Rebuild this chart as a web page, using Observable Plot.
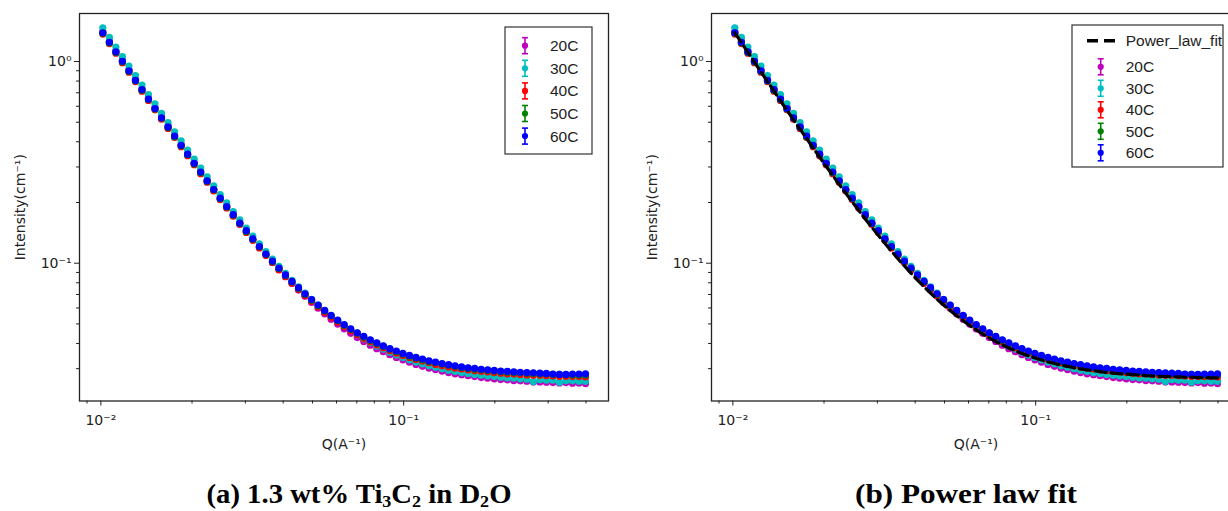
<!DOCTYPE html>
<html>
<head>
<meta charset="utf-8">
<script src="https://cdn.jsdelivr.net/npm/d3@7"></script>
<script src="https://cdn.jsdelivr.net/npm/@observablehq/plot@0.6"></script>
<style>
html, body { margin: 0; padding: 0; width: 1228px; height: 511px; overflow: hidden; background: #fff; }
#root { position: relative; width: 1228px; height: 511px; overflow: hidden; }
.panel { position: absolute; top: 0; }
</style>
</head>
<body>
<div id="root"></div>
<script>
// ---------- data ----------
const q = [0.01015,0.01067,0.01121,0.01178,0.01238,0.01301,0.01367,0.01436,0.01509,0.01586,
0.01667,0.01752,0.01841,0.01934,0.02033,0.02136,0.02244,0.02359,0.02478,0.02604,
0.02737,0.02876,0.03022,0.03177,0.03338,0.03508,0.03687,0.03874,0.04071,0.04277,
0.04495,0.04723,0.04964,0.05218,0.05483,0.05761,0.06054,0.06361,0.06685,0.07025,
0.07382,0.07758,0.08152,0.08567,0.09002,0.0946,0.09941,0.1045,0.1098,0.1154,
0.1212,0.1274,0.1339,0.1407,0.1478,0.1553,0.1632,0.1715,0.1803,0.1894,
0.1991,0.2092,0.2198,0.231,0.2427,0.2551,0.2681,0.2817,0.296,0.311,
0.3269,0.3435,0.361,0.3793,0.3986];

const seriesNames = ["20C", "30C", "40C", "50C", "60C"];
const seriesColors = ["#bf00bf", "#00bfbf", "#ff0000", "#008000", "#0000ff"];

const i20 = [1.407,1.261,1.131,1.014,0.909,0.816,0.732,0.658,0.591,0.531,
0.478,0.430,0.387,0.349,0.315,0.284,0.257,0.232,0.210,0.191,
0.1733,0.1577,0.1437,0.1311,0.1199,0.1099,0.1009,0.0929,0.0857,0.0793,
0.0736,0.0685,0.0639,0.0598,0.0561,0.0528,0.0499,0.0473,0.0449,0.0428,
0.0409,0.0392,0.0377,0.0364,0.0352,0.0341,0.0332,0.0323,0.0315,0.0308,
0.0302,0.0297,0.0292,0.0287,0.0283,0.0280,0.0277,0.0274,0.0271,0.0269,
0.0267,0.0265,0.0264,0.0262,0.0261,0.0260,0.0258,0.0258,0.0257,0.0256,
0.0255,0.0256,0.0254,0.0255,0.0253];

const i30 = [1.469,1.316,1.180,1.058,0.949,0.852,0.764,0.686,0.617,0.554,
0.498,0.448,0.404,0.364,0.328,0.296,0.268,0.242,0.219,0.199,
0.1805,0.1641,0.1495,0.1364,0.1247,0.1143,0.1049,0.0965,0.0890,0.0823,
0.0763,0.0710,0.0662,0.0619,0.0581,0.0546,0.0516,0.0488,0.0464,0.0442,
0.0422,0.0405,0.0389,0.0375,0.0362,0.0351,0.0341,0.0332,0.0324,0.0317,
0.0310,0.0305,0.0300,0.0295,0.0291,0.0287,0.0284,0.0281,0.0278,0.0276,
0.0274,0.0272,0.0270,0.0269,0.0267,0.0266,0.0259,0.0264,0.0263,0.0263,
0.0257,0.0261,0.0261,0.0260,0.0260];

const i40 = [1.368,1.227,1.100,0.987,0.885,0.795,0.713,0.641,0.576,0.518,
0.466,0.420,0.378,0.341,0.308,0.278,0.252,0.228,0.207,0.188,
0.1709,0.1557,0.1421,0.1299,0.1191,0.1094,0.1007,0.0929,0.0859,0.0797,
0.0742,0.0692,0.0647,0.0607,0.0572,0.0540,0.0511,0.0486,0.0463,0.0443,
0.0424,0.0408,0.0394,0.0381,0.0369,0.0358,0.0349,0.0341,0.0333,0.0327,
0.0321,0.0315,0.0310,0.0306,0.0302,0.0299,0.0296,0.0293,0.0291,0.0289,
0.0287,0.0285,0.0283,0.0282,0.0281,0.0279,0.0278,0.0278,0.0277,0.0276,
0.0275,0.0275,0.0274,0.0274,0.0273];

const i50 = [1.382,1.239,1.111,0.997,0.894,0.803,0.721,0.648,0.582,0.524,
0.471,0.424,0.382,0.345,0.311,0.281,0.255,0.231,0.209,0.190,
0.1729,0.1575,0.1438,0.1315,0.1206,0.1107,0.1019,0.0941,0.0870,0.0808,
0.0751,0.0701,0.0656,0.0616,0.0580,0.0548,0.0519,0.0493,0.0470,0.0450,
0.0431,0.0415,0.0400,0.0387,0.0375,0.0364,0.0355,0.0346,0.0339,0.0332,
0.0326,0.0321,0.0316,0.0312,0.0308,0.0304,0.0301,0.0298,0.0296,0.0294,
0.0292,0.0290,0.0288,0.0287,0.0286,0.0285,0.0284,0.0283,0.0282,0.0281,
0.0281,0.0280,0.0279,0.0279,0.0279];

const i60 = [1.389,1.246,1.117,1.002,0.899,0.807,0.725,0.651,0.585,0.526,
0.474,0.427,0.384,0.347,0.313,0.283,0.256,0.232,0.210,0.191,
0.174,0.158,0.145,0.132,0.121,0.111,0.1025,0.0946,0.0875,0.0812,
0.0756,0.0705,0.0660,0.0620,0.0583,0.0551,0.0522,0.0496,0.0473,0.0452,
0.0434,0.0417,0.0403,0.0389,0.0377,0.0367,0.0357,0.0349,0.0341,0.0335,
0.0328,0.0323,0.0318,0.0314,0.0310,0.0306,0.0303,0.0301,0.0298,0.0296,
0.0294,0.0292,0.0291,0.0289,0.0288,0.0287,0.0286,0.0285,0.0284,0.0282,
0.0281,0.0281,0.0282,0.0282,0.0283];

const fitName = "Power_law_fit";
const fitValues = [1.388,1.242,1.111,0.994,0.889,0.796,0.713,0.639,0.573,0.514,
0.462,0.415,0.373,0.336,0.302,0.273,0.246,0.2225,0.2014,0.1826,
0.1657,0.1508,0.1374,0.1255,0.1148,0.1053,0.0968,0.0893,0.0825,0.0765,
0.0711,0.0663,0.0621,0.0583,0.0549,0.0518,0.0491,0.0467,0.0445,0.0426,
0.0409,0.0394,0.0380,0.0368,0.0357,0.0347,0.0339,0.0331,0.0324,0.0318,
0.0312,0.0308,0.0303,0.0299,0.0296,0.0293,0.0290,0.0287,0.0285,0.0283,
0.0282,0.0280,0.0279,0.0277,0.0276,0.0275,0.0274,0.0274,0.0273,0.0272,
0.0272,0.0271,0.0271,0.0270,0.0270];

const xMajorTicks = [0.01, 0.1];
const xMajorLabels = ["10⁻²", "10⁻¹"];
const xMinorTicks = [0.009, 0.02, 0.03, 0.04, 0.05, 0.06, 0.07, 0.08, 0.09, 0.2, 0.3, 0.4];
const yMajorTicks = [0.1, 1];
const yMajorLabels = ["10⁻¹", "10⁰"];
const yMinorTicks = [0.03, 0.04, 0.05, 0.06, 0.07, 0.08, 0.09, 0.2, 0.3, 0.4, 0.5, 0.6, 0.7, 0.8, 0.9];
const xLabel = "Q(A⁻¹)";
const yLabel = "Intensity(cm⁻¹)";
const captionA = "(a) 1.3 wt% Ti₃C₂ in D₂O";
const captionB = "(b) Power law fit";

// ---------- drawing ----------
const allSeries = [i20, i30, i40, i50, i60];

function makePanel(withFit) {
  const marks = [
    Plot.axisX({ticks: xMinorTicks, tickSize: 3, tickFormat: () => "", label: null}),
    Plot.axisX({ticks: xMajorTicks, tickSize: 5, tickPadding: 9.5, fontSize: 14,
      tickFormat: d => xMajorLabels[xMajorTicks.indexOf(d)], label: null}),
    Plot.axisY({ticks: yMinorTicks, tickSize: 3, tickFormat: () => "", label: null}),
    Plot.axisY({ticks: yMajorTicks, tickSize: 5, tickPadding: 3, fontSize: 14,
      tickFormat: d => yMajorLabels[yMajorTicks.indexOf(d)], label: null})
  ];
  allSeries.forEach((s, k) => {
    const rows = q.map((x, j) => ({q: x, v: s[j]}));
    marks.push(Plot.dot(rows, {x: "q", y: "v", r: 3.6, fill: seriesColors[k], stroke: null}));
  });
  if (withFit) {
    const rows = q.map((x, j) => ({q: x, v: fitValues[j]}));
    marks.push(Plot.line(rows, {x: "q", y: "v", stroke: "#000", strokeWidth: 3.2, strokeDasharray: "11,5"}));
  }
  marks.push(Plot.frame({stroke: "#222", strokeWidth: 1.3}));
  marks.push(Plot.text([xLabel], {frameAnchor: "bottom", dy: 43.5, text: d => d, fontSize: 14,
    textAnchor: "middle", lineAnchor: "middle", fill: "#222"}));
  marks.push(Plot.text([yLabel], {frameAnchor: "left", dx: -59.3, rotate: -90, text: d => d, fontSize: 14,
    textAnchor: "middle", lineAnchor: "middle", fill: "#222"}));
  return Plot.plot({
    width: 620, height: 460,
    marginLeft: 79, marginRight: 12, marginTop: 13, marginBottom: 59.5,
    x: {type: "log", domain: [0.0085, 0.4747]},
    y: {type: "log", domain: [0.02074, 1.73]},
    style: {fontFamily: "'DejaVu Sans', sans-serif", color: "#222", background: "transparent", overflow: "visible"},
    marks
  });
}

const root = document.getElementById("root");
const p1 = makePanel(false);
p1.classList.add("panel"); p1.style.left = "0px";
root.appendChild(p1);
const p2 = makePanel(true);
p2.classList.add("panel"); p2.style.left = "631.6px";
root.appendChild(p2);

// overlay: legends + captions
const ov = d3.select(root).append("svg")
  .attr("width", 1228).attr("height", 511)
  .style("position", "absolute").style("left", "0px").style("top", "0px");

function errSymbol(g, x, y, color) {
  g.append("line").attr("x1", x).attr("x2", x).attr("y1", y - 8).attr("y2", y + 8)
    .attr("stroke", color).attr("stroke-width", 1.6);
  g.append("line").attr("x1", x - 3).attr("x2", x + 3).attr("y1", y - 8).attr("y2", y - 8)
    .attr("stroke", color).attr("stroke-width", 1.6);
  g.append("line").attr("x1", x - 3).attr("x2", x + 3).attr("y1", y + 8).attr("y2", y + 8)
    .attr("stroke", color).attr("stroke-width", 1.6);
  g.append("circle").attr("cx", x).attr("cy", y).attr("r", 3.1).attr("fill", color);
}
function legendText(g, x, y, s) {
  g.append("text").attr("x", x).attr("y", y).attr("dy", "0.36em")
    .attr("font-family", "'Liberation Sans', Arial, sans-serif").attr("font-size", 15.5)
    .attr("fill", "#222").text(s);
}
function legend(box, rowsY, symX, textX, fit) {
  const g = ov.append("g");
  g.append("rect").attr("x", box[0]).attr("y", box[1]).attr("width", box[2]).attr("height", box[3])
    .attr("fill", "#fff").attr("stroke", "#333").attr("stroke-width", 1.2);
  if (fit) {
    g.append("line").attr("x1", fit.x1).attr("x2", fit.x2).attr("y1", fit.y).attr("y2", fit.y)
      .attr("stroke", "#000").attr("stroke-width", 3.5).attr("stroke-dasharray", "11,6");
    legendText(g, textX, fit.y, fitName);
  }
  seriesNames.forEach((n, k) => {
    errSymbol(g, symX, rowsY[k], seriesColors[k]);
    legendText(g, textX, rowsY[k], n);
  });
}
legend([505, 27, 87, 127], [45.7, 68.3, 90.9, 113.5, 136.1], 525, 550, null);
legend([1072, 25, 151, 142], [66.8, 88.3, 109.8, 131.3, 152.8], 1100.7, 1125.7, {x1: 1087, x2: 1116, y: 40.7});

const subMap = {"₀":"0","₁":"1","₂":"2","₃":"3","₄":"4","₅":"5","₆":"6","₇":"7","₈":"8","₉":"9"};
function caption(str, cx, baseline, len) {
  const t = ov.append("text").attr("x", cx).attr("y", baseline).attr("text-anchor", "middle")
    .attr("font-family", "'Liberation Serif'").attr("font-weight", "bold")
    .attr("font-size", 27).attr("fill", "#000")
    .attr("textLength", len).attr("lengthAdjust", "spacingAndGlyphs");
  let runs = [];
  for (const ch of str) {
    const sub = ch in subMap;
    const c = sub ? subMap[ch] : ch;
    if (runs.length && runs[runs.length - 1].sub === sub) runs[runs.length - 1].s += c;
    else runs.push({sub, s: c});
  }
  let shifted = false;
  runs.forEach(r => {
    const ts = t.append("tspan").text(r.s);
    if (r.sub) { ts.attr("font-size", 17).attr("dy", 3.5); shifted = true; }
    else if (shifted) { ts.attr("dy", -3.5); shifted = false; }
  });
}
caption(captionA, 359, 503, 305);
caption(captionB, 966, 503, 222);
</script>
</body>
</html>
